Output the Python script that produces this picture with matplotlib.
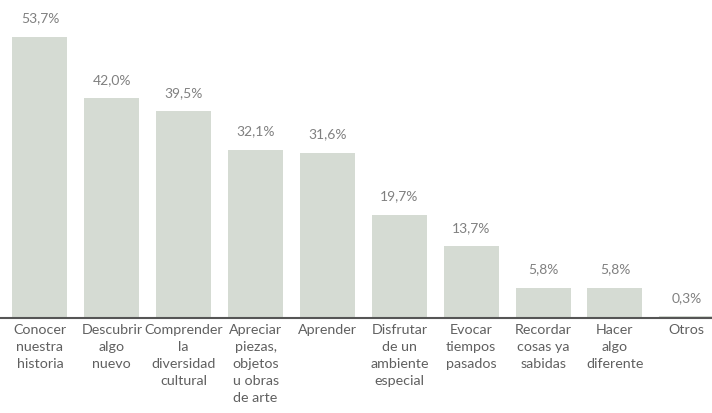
import matplotlib.pyplot as plt

# Motivos para visitar un museo (% de respuestas)
categorias = [
    "Conocer\nnuestra\nhistoria",
    "Descubrir\nalgo\nnuevo",
    "Comprender\nla\ndiversidad\ncultural",
    "Apreciar\npiezas,\nobjetos\nu obras\nde arte",
    "Aprender",
    "Disfrutar\nde un\nambiente\nespecial",
    "Evocar\ntiempos\npasados",
    "Recordar\ncosas ya\nsabidas",
    "Hacer\nalgo\ndiferente",
    "Otros",
]
valores = [53.7, 42.0, 39.5, 32.1, 31.6, 19.7, 13.7, 5.8, 5.8, 0.3]
etiquetas = ["53,7%", "42,0%", "39,5%", "32,1%", "31,6%",
             "19,7%", "13,7%", "5,8%", "5,8%", "0,3%"]

plt.rcParams['font.family'] = ['Lato', 'DejaVu Sans']

fig = plt.figure(figsize=(7.12, 4.13), dpi=100)
ax = fig.add_axes([0, 0.23, 1, 0.77])

x = range(len(valores))
ax.bar(x, valores, width=0.765, color="#d5dbd3")

for i, (v, t) in enumerate(zip(valores, etiquetas)):
    ax.text(i, v + 2.4, t, ha="center", va="bottom", fontsize=10,
            color="#808080")

ax.set_xlim(-0.556, 9.35)
ax.set_ylim(0, 60.8)

ax.set_xticks(list(x))
ax.set_xticklabels(categorias, fontsize=10.3, color="#606060",
                   linespacing=1.5, va="top")
ax.tick_params(axis="x", length=0, pad=4)
ax.set_yticks([])

for s in ["top", "right", "left"]:
    ax.spines[s].set_visible(False)
ax.spines["bottom"].set_color("#555555")
ax.spines["bottom"].set_linewidth(1.5)

fig.savefig("out.png", dpi=100)
